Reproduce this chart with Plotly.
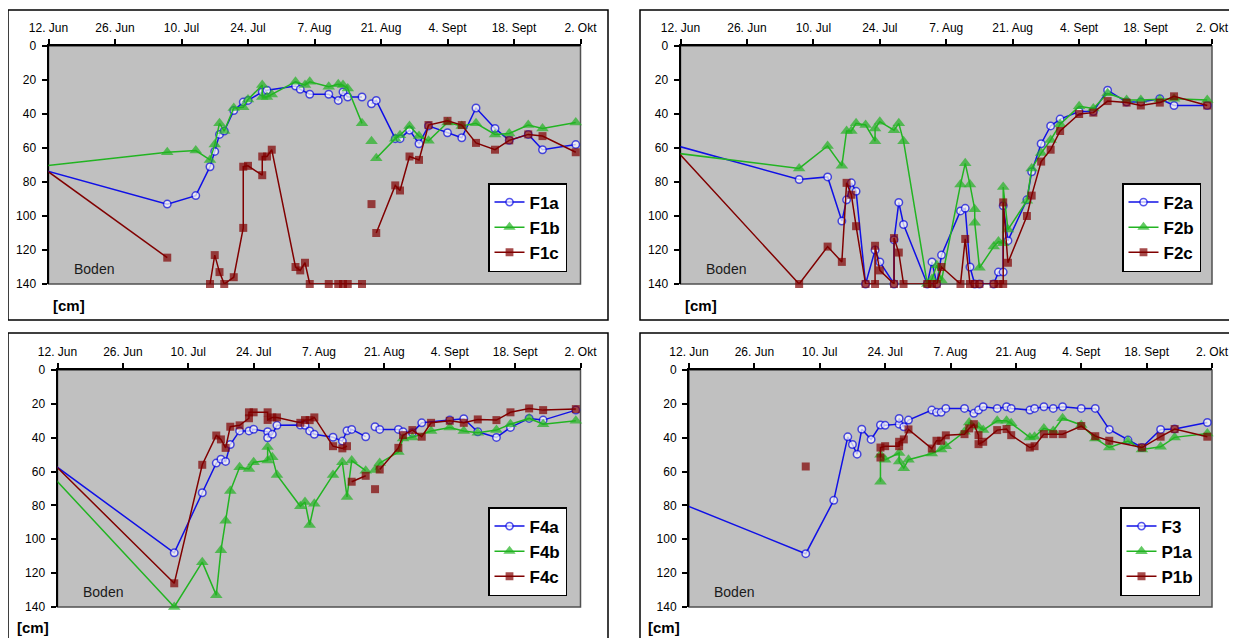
import plotly.graph_objects as go

# x = days after 12 June (0 = 12. Jun, 112 = 2. Okt); y = depth in cm
tick_days = [0, 14, 28, 42, 56, 70, 84, 98, 112]
tick_labels = ["12. Jun", "26. Jun", "10. Jul", "24. Jul", "7. Aug", "21. Aug", "4. Sept", "18. Sept", "2. Okt"]
depth_ticks = [0, 20, 40, 60, 80, 100, 120, 140]

# ---- Panel 1
F1a_x = [-1, 25, 31, 34, 35, 36, 37, 39, 41, 42, 45, 46, 52, 53, 55, 59, 61, 62, 63, 66, None, 68, 69, 73, 74, 76, 78, 80, 84, 87, 90, 94, 97, 101, 104, 111]
F1a_y = [73, 93, 88, 71, 62, 52, 50, 38, 33, 32, 27, 26, 23.5, 25.5, 28.4, 28.4, 32, 27, 30, 30, None, 34, 32, 54.5, 54.5, 49.5, 57.5, 47, 51, 54, 36.5, 48.5, 55.5, 52, 61, 58]
F1b_x = [-1, 25, 31, 34, 35, 36, 37, 39, 41, 42, 45, 45, 46, 47, 52, 54, 55, 59, 61, 62, 63, 66, None, 68, None, 69, 73, 74, 76, 78, 80, 84, 87, 90, 94, 97, 101, 104, 111]
F1b_y = [70.5, 62.5, 61.5, 67, 58, 45.5, 50, 36.5, 36, 31.5, 23, 30, 30, 28.5, 21, 23, 21, 24, 22.5, 23, 25, 45.5, None, 56, None, 66, 54.5, 52.5, 47, 53, 55.8, 45, 47, 45.5, 52, 51.5, 46.5, 48.5, 45]
F1c_x = [-1, 25, None, 34, 35, 36, 37, 39, 41, 41, 42, 45, 45, 46, 47, 52, 53, 54, 55, 59, 61, 62, 63, 66, None, 68, None, 69, 73, 74, 76, 78, 80, 84, 87, 90, 94, 97, 101, 104, 111]
F1c_y = [72, 124.5, None, 140, 123, 133, 140, 136, 107, 71, 70.5, 76, 65, 65, 61, 130, 132, 127.5, 140, 140, 140, 140, 140, 140, None, 93, None, 110, 82, 85, 65, 67, 46.5, 44, 46.5, 57, 61, 55.5, 52, 53, 62.5]

# ---- Panel 2
F2a_x = [-1, 25, 31, 34, 35, 36, 37, 39, 41, 42, 45, 45, 46, 47, 52, 53, 54, 55, 59, 60, 61, 62, 63, 66, 67, 68, 68, 69, 73, 74, 76, 78, 80, 84, 87, 90, 94, 97, 101, 104, 111]
F2a_y = [58.5, 78.5, 77, 103, 90.5, 80.5, 85.5, 140, 120, 127, 140, 114, 92, 105, 140, 127, 140, 123, 97, 95.5, 130, 140, 140, 140, 133, 133, 94, 114.5, 90.5, 74, 57.5, 47, 43, 38.5, 38.5, 26, 33, 33, 31, 35, 35]
F2b_x = [-1, 25, 31, 34, 35, 36, 37, 39, 41, 41, 42, 45, 46, 47, 52, 53, 54, 55, 59, 60, 61, 62, 62, 63, 66, 67, 68, 68, 69, 73, 74, 76, 78, 80, 84, 87, 90, 94, 97, 101, 104, 111]
F2b_y = [63, 72, 58.8, 70.5, 50, 50, 45.5, 46.5, 56, 48.5, 44.5, 49.5, 45.5, 56, 140, 137, 129, 138, 81.5, 69, 81.5, 96, 104, 130.5, 118, 115, 116, 83, 108, 91, 72, 63, 55.3, 46, 35.5, 36.7, 27.8, 31.7, 31.7, 31.5, 31, 31.7]
F2c_x = [-1, 25, 31, 34, 35, 36, 37, 39, 41, 41, 42, 45, 45, 46, 47, 52, 53, 54, 55, 59, 60, 61, 62, 63, 66, 67, 68, 68, 69, 73, 74, 76, 78, 80, 84, 87, 90, 94, 97, 101, 104, 111]
F2c_y = [61, 140, 118, 127, 80.5, 87.5, 106, 140, 140, 117.5, 132, 140, 113, 121.5, 140, 140, 140, 140, 130, 140, 113.5, 140, 140, 140, 140, 140, 140, 92, 127.5, 100, 88, 68, 61, 50, 40, 39.2, 32.4, 33.3, 35, 33.3, 29.6, 35]

# ---- Panel 3
F4a_x = [-1, 25, 31, 34, 35, 36, 37, 39, 41, 42, 45, 45, 46, 47, 52, 53, 54, 55, 59, 61, 62, 63, 66, None, 68, 69, 73, 74, 76, 78, 84, 87, 90, 94, 97, 101, 104, 111]
F4a_y = [55.5, 108, 72.5, 55, 52.7, 54, 44, 36, 36, 35, 36.5, 40, 38, 32.7, 32.5, 32.7, 36, 38, 39.7, 42, 35.9, 35.1, 39.4, None, 33.5, 35.1, 35.1, 36.5, 37, 31.2, 29.6, 28.8, 36.5, 39.8, 33.9, 28.6, 29.6, 23.7]
F4b_x = [-1, 25, 31, 34, 35, 36, 37, 39, 41, 42, 45, 45, 46, 47, 52, 53, 54, 55, 59, 61, 62, 63, 66, None, 68, 69, 73, 74, 76, 80, 84, 87, 90, 94, 97, 101, 104, 111]
F4b_y = [63, 140, 113.5, 133, 106.5, 89, 71.5, 57.5, 58.5, 54.5, 53.5, 45.5, 51.5, 62, 80.5, 78, 91.5, 79, 62, 54.5, 75, 53.5, 59.5, None, 59, 55, 48.5, 40.5, 39.8, 36, 34, 36, 37, 35.5, 32, 28.6, 32, 30]
F4c_x = [-1, 25, 31, 34, 35, 36, 37, 39, 41, 41, 42, 45, 45, 46, 47, 52, 53, 54, 55, 59, 61, 62, None, 63, 66, None, 68, None, 69, 73, 74, 76, 78, 80, 84, 87, 90, 94, 97, 101, 104, 111]
F4c_y = [55, 126, 56, 38.7, 41, 46, 33.5, 32.7, 28.5, 25, 25, 25, 29.5, 28, 28, 31.2, 29.6, 29.6, 28, 45, 46.3, 45, None, 66, 62.5, None, 70.4, None, 58.8, 46, 38.5, 35.5, 39.4, 31.2, 30, 31.2, 29.2, 29.6, 25, 22.7, 23.7, 23.1]

# ---- Panel 4
F3_x = [-1, 25, 31, 34, 35, 36, 37, 39, 41, 42, 45, 45, 46, 47, 52, 53, 54, 55, 59, 61, 62, 63, 66, 68, 69, 73, 74, 76, 78, 80, 84, 87, 90, 94, 97, 101, 104, 111]
F3_y = [79.5, 108.5, 77, 39.5, 44, 49.7, 35, 41, 32.5, 32.7, 32, 28.6, 33.5, 29.6, 23.7, 25, 25, 22.7, 22.7, 25.6, 23.7, 21.7, 22.7, 21.7, 22.7, 23.7, 22.7, 21.7, 22.7, 21.7, 22.7, 22.7, 35.1, 41.4, 45.8, 35.1, 34.9, 31]
P1a_x = [41, 41, 42, 45, 45, 46, 47, 52, 54, 55, 59, 60, 62, 63, 66, 68, 69, 73, 74, 76, 78, 80, 84, 87, 90, 94, 97, 101, 104, 111]
P1a_y = [66, 50, 53, 49, 54, 58, 53, 49.3, 47, 45, 36.5, 31, 33.5, 35.5, 30, 30, 31.5, 39.8, 39.4, 34.5, 36, 28.5, 32.5, 40.4, 45.8, 42, 47, 45.4, 39.8, 37.5]
P1b_x = [25, None, 41, 41, 42, 45, 45, 46, 47, 52, 53, 54, 55, 59, 60, 61, 62, 62, 63, 66, 68, 69, 73, 74, 76, 78, 80, 84, 87, 90, 97, 101, 104, 111]
P1b_y = [57, None, 51.7, 45.8, 45, 45, 42.4, 41, 35.1, 46.4, 41.8, 41.8, 38.6, 37.9, 34.5, 32, 38.5, 43.8, 42.4, 35.5, 34.9, 38.5, 45.8, 45, 37.9, 37.9, 37.9, 33.1, 39.1, 41.8, 45.8, 39.4, 34.9, 39.4]

BLUE = "#1010E6"
GREEN = "#22B422"
RED = "#800000"
FONT = "Liberation Sans, Arial, sans-serif"

# the page places the figure 8 px in from the top-left corner of the window
OFF = 8
W, H = 1237 - OFF, 638 - OFF


def fx(px):
    return (px - OFF) / W


def fy(py):
    return 1 - (py - OFF) / H


panels = [
    dict(px=(48.5, 580.5, 46, 284), series=[("F1a", F1a_x, F1a_y, "a"), ("F1b", F1b_x, F1b_y, "b"), ("F1c", F1c_x, F1c_y, "c")],
         box=(8, 608, 10, 320), leg=(567, 272), cm=(51, 305)),
    dict(px=(680.5, 1212, 46, 284), series=[("F2a", F2a_x, F2a_y, "a"), ("F2b", F2b_x, F2b_y, "b"), ("F2c", F2c_x, F2c_y, "c")],
         box=(640, 1250, 10, 320), leg=(1201, 272), cm=(683, 305)),
    dict(px=(57.5, 580.5, 370, 607), series=[("F4a", F4a_x, F4a_y, "a"), ("F4b", F4b_x, F4b_y, "b"), ("F4c", F4c_x, F4c_y, "c")],
         box=(8, 608, 333, 650), leg=(567, 596), cm=(15, 627)),
    dict(px=(689, 1212, 370, 607), series=[("F3", F3_x, F3_y, "a"), ("P1a", P1a_x, P1a_y, "b"), ("P1b", P1b_x, P1b_y, "c")],
         box=(640, 1250, 333, 650), leg=(1200, 596), cm=(646, 627)),
]

styles = {
    "a": dict(color=BLUE, symbol="circle", size=7.5, fill="white", lw=1.5),
    "b": dict(color=GREEN, symbol="triangle-up", size=11, fill=GREEN, lw=0),
    "c": dict(color=RED, symbol="square", size=8, fill=RED, lw=0),
}

fig = go.Figure()
layout = dict(width=W, height=H, autosize=False, margin=dict(l=0, r=0, t=0, b=0, autoexpand=False),
              paper_bgcolor="white", plot_bgcolor="#C0C0C0", showlegend=True, shapes=[], annotations=[])

for i, p in enumerate(panels, start=1):
    sfx = "" if i == 1 else str(i)
    l, r, t, b = p["px"]
    xa = dict(domain=[fx(l), fx(r)], range=[0, 112], side="top", tickmode="array",
              tickvals=tick_days, ticktext=tick_labels, ticks="outside", ticklen=5, tickwidth=1.5,
              tickcolor="black", showline=True, linecolor="black", linewidth=2, showgrid=False,
              zeroline=False, tickfont=dict(family=FONT, size=12, color="black"), automargin=False,
              ticklabelstandoff=2, anchor="y" + sfx, layer="below traces", fixedrange=True)
    ya = dict(domain=[fy(b), fy(t)], range=[140, 0], tickmode="array", tickvals=depth_ticks,
              ticks="outside", ticklen=5, tickwidth=1.5, tickcolor="black", showline=True,
              linecolor="black", linewidth=2, showgrid=False, zeroline=False, automargin=False,
              tickfont=dict(family=FONT, size=12, color="black"), ticklabelstandoff=3,
              anchor="x" + sfx, layer="below traces", fixedrange=True)
    layout["xaxis" + sfx] = xa
    layout["yaxis" + sfx] = ya
    legname = "legend" + sfx
    for name, xs, ys, key in p["series"]:
        st = styles[key]
        sizes = [0 if (x is not None and x < 0) else st["size"] for x in xs]
        fig.add_trace(go.Scatter(
            x=xs, y=ys, name=name, mode="lines+markers", xaxis="x" + sfx, yaxis="y" + sfx,
            legend=legname, cliponaxis=False,
            line=dict(color=st["color"], width=1.5),
            marker=dict(symbol=st["symbol"], size=sizes, color=st["fill"],
                        line=dict(color=st["color"], width=st["lw"]))))
    lx, ly = p["leg"]
    layout[legname] = dict(x=fx(lx), y=fy(ly), xanchor="right", yanchor="bottom",
                           bgcolor="white", bordercolor="black", borderwidth=1.5,
                           font=dict(family=FONT, size=17, color="black", weight="bold"),
                           itemwidth=30, tracegroupgap=0)
    layout["shapes"].append(dict(type="rect", xref="x" + sfx + " domain", yref="y" + sfx + " domain",
                                 x0=0, x1=1, y0=0, y1=1, line=dict(color="#505050", width=1.5),
                                 layer="below"))
    bx0, bx1, by0, by1 = p["box"]
    layout["shapes"].append(dict(type="rect", xref="paper", yref="paper", x0=fx(bx0), x1=fx(bx1),
                                 y0=fy(by1), y1=fy(by0), line=dict(color="black", width=1.5)))
    layout["annotations"].append(dict(text="Boden", xref="x" + sfx + " domain", yref="y" + sfx + " domain",
                                      x=0.044, y=0.065, xanchor="left", yanchor="middle", showarrow=False,
                                      font=dict(family=FONT, size=14, color="#1a1a1a")))
    cx, cy = p["cm"]
    layout["annotations"].append(dict(text="<b>[cm]</b>", xref="paper", yref="paper", x=fx(cx), y=fy(cy),
                                      xanchor="left", yanchor="middle", showarrow=False,
                                      font=dict(family=FONT, size=15, color="black")))

fig.update_layout(**layout)
fig.write_html("out.html")
